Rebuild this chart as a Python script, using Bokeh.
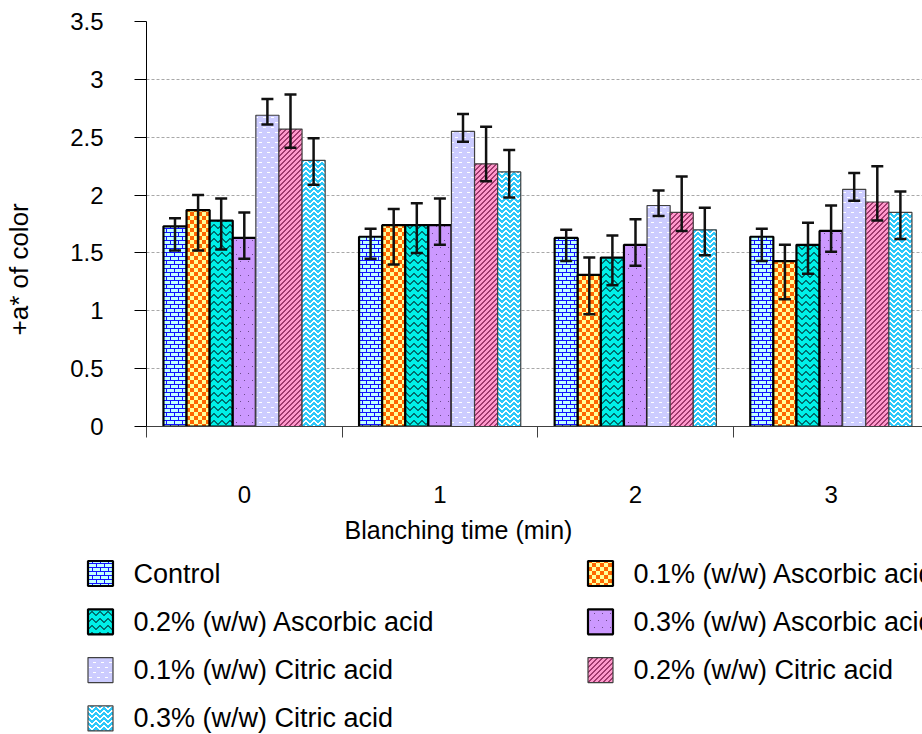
import base64
import struct
import zlib

from bokeh.core.properties import value
from bokeh.embed import file_html
from bokeh.models import (ColumnDataSource, CustomJSTickFormatter, FixedTicker,
                          ImageURLTexture, Range1d, TeeHead, Title, Whisker)
from bokeh.plotting import figure
from bokeh.resources import INLINE

# ---------------------------------------------------------------- data
categories = ["0", "1", "2", "3"]          # blanching time (min)
y_ticks = [0, 0.5, 1, 1.5, 2, 2.5, 3, 3.5]

series_names = [
    "Control",
    "0.1% (w/w) Ascorbic acid",
    "0.2% (w/w) Ascorbic acid",
    "0.3% (w/w) Ascorbic acid",
    "0.1% (w/w) Citric acid",
    "0.2% (w/w) Citric acid",
    "0.3% (w/w) Citric acid",
]

control_mean = [1.73, 1.64, 1.63, 1.64]
aa01_mean = [1.87, 1.74, 1.31, 1.43]
aa02_mean = [1.78, 1.74, 1.46, 1.57]
aa03_mean = [1.63, 1.74, 1.57, 1.69]
ca01_mean = [2.69, 2.55, 1.91, 2.05]
ca02_mean = [2.57, 2.27, 1.85, 1.94]
ca03_mean = [2.30, 2.20, 1.70, 1.85]

control_upper = [1.80, 1.71, 1.70, 1.71]
aa01_upper = [2.00, 1.88, 1.46, 1.57]
aa02_upper = [1.97, 1.93, 1.65, 1.76]
aa03_upper = [1.85, 1.97, 1.79, 1.91]
ca01_upper = [2.83, 2.70, 2.04, 2.19]
ca02_upper = [2.87, 2.59, 2.16, 2.25]
ca03_upper = [2.49, 2.39, 1.89, 2.03]

control_lower = [1.52, 1.45, 1.43, 1.43]
aa01_lower = [1.52, 1.40, 0.97, 1.10]
aa02_lower = [1.53, 1.50, 1.22, 1.32]
aa03_lower = [1.45, 1.57, 1.39, 1.51]
ca01_lower = [2.61, 2.46, 1.82, 1.95]
ca02_lower = [2.41, 2.12, 1.69, 1.78]
ca03_lower = [2.09, 1.98, 1.48, 1.62]

means = [control_mean, aa01_mean, aa02_mean, aa03_mean, ca01_mean, ca02_mean, ca03_mean]
uppers = [control_upper, aa01_upper, aa02_upper, aa03_upper, ca01_upper, ca02_upper, ca03_upper]
lowers = [control_lower, aa01_lower, aa02_lower, aa03_lower, ca01_lower, ca02_lower, ca03_lower]


# ---------------------------------------------------------------- fill textures
def hex_rgb(h):
    h = h.lstrip("#")
    return tuple(int(h[i:i + 2], 16) for i in (0, 2, 4))


def png_url(tile, palette):
    """Encode a small character tile as a PNG data URL."""
    h, w = len(tile), len(tile[0])
    raw = bytearray()
    for row in tile:
        raw.append(0)
        for ch in row:
            raw.extend(hex_rgb(palette[ch]))

    def chunk(tag, data):
        return (struct.pack(">I", len(data)) + tag + data
                + struct.pack(">I", zlib.crc32(tag + data) & 0xFFFFFFFF))

    png = (b"\x89PNG\r\n\x1a\n"
           + chunk(b"IHDR", struct.pack(">IIBBBBB", w, h, 8, 2, 0, 0, 0))
           + chunk(b"IDAT", zlib.compress(bytes(raw)))
           + chunk(b"IEND", b""))
    return "data:image/png;base64," + base64.b64encode(png).decode()


brick = png_url([
    "bbbbbbbb",
    "bccccccc",
    "bccccccc",
    "bccccccc",
    "bbbbbbbb",
    "ccccbccc",
    "ccccbccc",
    "ccccbccc",
], {"b": "#1010ff", "c": "#c0ffff"})

checker = png_url([
    "ooooyyyy",
    "ooooyyyy",
    "ooooyyyy",
    "ooooyyyy",
    "yyyyoooo",
    "yyyyoooo",
    "yyyyoooo",
    "yyyyoooo",
], {"o": "#ff6600", "y": "#ffff99"})

zigzag = png_url([
    "...dd...",
    "..dddd..",
    ".dd..dd.",
    "dd....dd",
    "d......d",
    "........",
    "........",
], {".": "#00f0e8", "d": "#007070"})

dots = png_url([
    "........",
    "........",
    "..k.....",
    "........",
    "........",
    "........",
    "........",
    "........",
    "........",
    "......k.",
    "........",
    "........",
    "........",
    "........",
], {".": "#cc99ff", "k": "#6a4a8a"})

dashes = png_url([
    "........",
    "........",
    ".www....",
    "........",
    "........",
    "........",
    "........",
    ".....www",
    "........",
    "........",
], {".": "#ccccff", "w": "#ffffff"})

diagonal = png_url([
    "m...m",
    "...mm",
    "..mm.",
    ".mm..",
    "mm...",
], {".": "#ff99cc", "m": "#a03a6e"})

weave = png_url([
    "w......w",
    "ww....ww",
    ".ww..ww.",
    "..wwww..",
    "...ww...",
], {".": "#2ec8fa", "w": "#ffffff"})

textures = [brick, checker, zigzag, dots, dashes, diagonal, weave]
base_colors = ["#3060ff", "#ff9933", "#00d0c8", "#cc99ff", "#ccccff", "#ff99cc", "#33ccff"]
outline_colors = ["#000000"] * 4 + ["#404040"] * 3
outline_widths = [2.2] * 4 + [1.2] * 3

FONT = "Liberation Sans"

# ---------------------------------------------------------------- main chart
# The canvas is pulled 30 px to the left so the rotated y title can sit close to the edge.
SHIFT = 30
CAT_W = 195.6          # px per category
FRAME_W = 922 - 146
p = figure(
    width=922 + SHIFT, height=555,
    x_range=Range1d(0, FRAME_W / CAT_W), y_range=Range1d(0, 3.5),
    output_backend="svg", toolbar_location=None,
    min_border_left=146 + SHIFT, min_border_right=0,
    min_border_top=21, min_border_bottom=128,
    background_fill_color="white", border_fill_color="white",
    styles={"margin-left": f"-{SHIFT}px"},
)
p.outline_line_color = None
p.xgrid.visible = False
p.ygrid.ticker = FixedTicker(ticks=y_ticks[1:])
p.ygrid.grid_line_color = "#a8a8a8"
p.ygrid.grid_line_dash = "3 2"
p.ygrid.grid_line_width = 1

yax = p.yaxis[0]
yax.ticker = FixedTicker(ticks=y_ticks)
yax.formatter = CustomJSTickFormatter(code="return tick.toString();")
yax.axis_line_color = "#000000"
yax.major_tick_line_color = "#000000"
yax.major_tick_out = 12
yax.major_tick_in = 0
yax.minor_tick_line_color = None
yax.major_label_standoff = 31
yax.major_label_text_font = FONT
yax.major_label_text_font_size = "24px"
yax.major_label_text_color = "#000000"

# category names sit under the middle of each group; short ticks mark the group edges
xax = p.xaxis[0]
xax.ticker = FixedTicker(ticks=[i + 0.5 for i in range(len(categories))],
                         minor_ticks=list(range(len(categories) + 1)))
xax.formatter = CustomJSTickFormatter(args=dict(labels=categories),
                                      code="return labels[Math.floor(tick)];")
xax.axis_line_color = "#404040"
xax.major_tick_line_color = None
xax.major_tick_out = 0
xax.major_tick_in = 0
xax.minor_tick_line_color = "#404040"
xax.minor_tick_out = 11
xax.minor_tick_in = 0
xax.major_label_standoff = 48
xax.major_label_text_font = FONT
xax.major_label_text_font_size = "24px"
xax.major_label_text_color = "#000000"

p.add_layout(Title(text="Blanching time (min)", align="left", offset=198,
                   vertical_align="top", standoff=20,
                   text_font=FONT, text_font_size="25px", text_font_style="normal",
                   text_color="#000000"), "below")
p.add_layout(Title(text="+a* of color", align="left", offset=91,
                   vertical_align="top", standoff=63,
                   text_font=FONT, text_font_size="26px", text_font_style="normal",
                   text_color="#000000"), "left")

n_series = len(series_names)
BAR_W = 23.1 / CAT_W
for k in range(n_series):
    xs = [i + 0.5 + (k - (n_series - 1) / 2) * BAR_W for i in range(len(categories))]
    src = ColumnDataSource(dict(x=xs, top=means[k], upper=uppers[k], lower=lowers[k]))
    tex = f"tex{k}"
    p.vbar(x="x", top="top", bottom=0, width=BAR_W, source=src,
           fill_color=base_colors[k], line_color=outline_colors[k],
           line_width=outline_widths[k],
           hatch_pattern=value(tex), hatch_extra={tex: ImageURLTexture(url=textures[k])})
    p.add_layout(Whisker(
        source=src, base="x", upper="upper", lower="lower", level="overlay",
        line_color="#111111", line_width=2.5,
        upper_head=TeeHead(size=12, line_color="#111111", line_width=2.5),
        lower_head=TeeHead(size=12, line_color="#111111", line_width=2.5),
    ))

# ---------------------------------------------------------------- legend panel
leg = figure(
    width=922, height=179,
    x_range=Range1d(0, 922), y_range=Range1d(734, 555),
    output_backend="svg", toolbar_location=None,
    x_axis_type=None, y_axis_type=None,
    min_border=0, min_border_left=0, min_border_right=0,
    min_border_top=0, min_border_bottom=0,
    background_fill_color="white", border_fill_color="white",
)
leg.outline_line_color = None
leg.grid.visible = False

SW = 25
for k, name in enumerate(series_names):
    col, row = k % 2, k // 2
    cx = 100 + col * 500
    cy = 573 + row * 48.3
    tex = f"tex{k}"
    leg.quad(left=[cx - SW / 2], right=[cx + SW / 2], top=[cy - SW / 2], bottom=[cy + SW / 2],
             fill_color=base_colors[k], line_color=outline_colors[k],
             line_width=outline_widths[k],
             hatch_pattern=value(tex), hatch_extra={tex: ImageURLTexture(url=textures[k])})
    leg.text(x=[cx + 33], y=[cy], text=[name], text_baseline="middle", text_align="left",
             text_font=value(FONT), text_font_size="27px", text_color="#000000")

open("out.html", "w").write(file_html([p, leg], INLINE))
